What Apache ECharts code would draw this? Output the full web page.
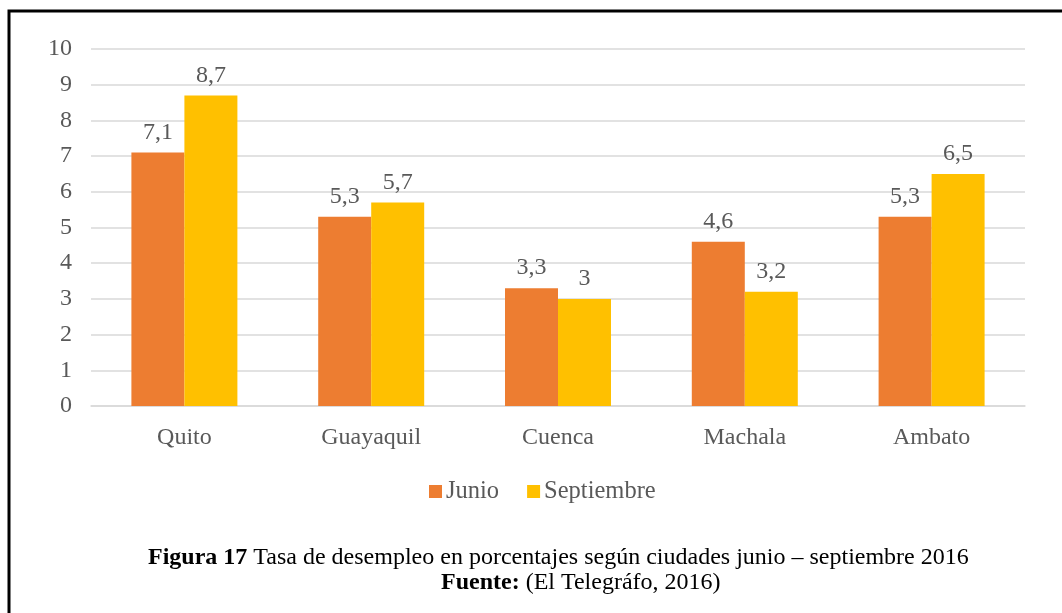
<!DOCTYPE html>
<html>
<head>
<meta charset="utf-8">
<script src="https://cdn.jsdelivr.net/npm/echarts@6/dist/echarts.min.js"></script>
<style>
  html, body { margin: 0; padding: 0; background: #fff; }
  #chart { width: 1062px; height: 613px; }
</style>
</head>
<body>
<div id="chart"></div>
<script>
const ciudades = ['Quito', 'Guayaquil', 'Cuenca', 'Machala', 'Ambato'];
const junio = [7.1, 5.3, 3.3, 4.6, 5.3];
const septiembre = [8.7, 5.7, 3.0, 3.2, 6.5];

const font = '"Liberation Serif", "Times New Roman", serif';
const grey = '#595959';

const fmt = (p) => String(p.value).replace('.', ',');

const chart = echarts.init(document.getElementById('chart'));

chart.setOption({
  animation: false,
  textStyle: { fontFamily: font },
  grid: { left: 91, right: 37, top: 49, bottom: 207 },
  legend: {
    data: ['Junio', 'Septiembre'],
    left: 429,
    top: 479,
    padding: 0,
    itemWidth: 13,
    itemHeight: 13,
    itemGap: 28,
    icon: 'rect',
    textStyle: { fontFamily: font, fontSize: 24.5, color: grey, padding: [0, 0, 0, -1] }
  },
  xAxis: {
    type: 'category',
    data: ciudades,
    axisLine: { lineStyle: { color: '#D9D9D9', width: 1.5 } },
    axisTick: { show: false },
    axisLabel: { fontFamily: font, fontSize: 24, color: grey, margin: 20 }
  },
  yAxis: {
    type: 'value',
    min: 0,
    max: 10,
    interval: 1,
    axisLine: { show: false },
    axisTick: { show: false },
    splitLine: { lineStyle: { color: '#D9D9D9', width: 1.5 } },
    axisLabel: { fontFamily: font, fontSize: 24, color: grey, margin: 19 }
  },
  series: [
    {
      name: 'Junio',
      type: 'bar',
      data: junio,
      barWidth: 53,
      barGap: '0%',
      itemStyle: { color: '#ED7D31' },
      label: { show: true, position: 'top', distance: 8, formatter: fmt,
               fontFamily: font, fontSize: 24, color: grey }
    },
    {
      name: 'Septiembre',
      type: 'bar',
      data: septiembre,
      barWidth: 53,
      barGap: '0%',
      itemStyle: { color: '#FFC000' },
      label: { show: true, position: 'top', distance: 8, formatter: fmt,
               fontFamily: font, fontSize: 24, color: grey }
    }
  ],
  graphic: [
    {
      type: 'rect',
      shape: { x: 9, y: 11, width: 1200, height: 800 },
      style: { fill: 'none', stroke: '#000', lineWidth: 3 },
      silent: true
    },
    {
      type: 'text',
      left: 148,
      top: 546,
      style: {
        text: '{b|Figura 17} Tasa de desempleo en porcentajes según ciudades junio – septiembre 2016',
        fontFamily: font,
        fontSize: 24,
        fill: '#000',
        rich: { b: { fontFamily: font, fontSize: 24, fontWeight: 'bold', fill: '#000' } }
      }
    },
    {
      type: 'text',
      left: 441,
      top: 571,
      style: {
        text: '{b|Fuente:} (El Telegráfo, 2016)',
        fontFamily: font,
        fontSize: 24,
        fill: '#000',
        rich: { b: { fontFamily: font, fontSize: 24, fontWeight: 'bold', fill: '#000' } }
      }
    }
  ]
});
</script>
</body>
</html>
